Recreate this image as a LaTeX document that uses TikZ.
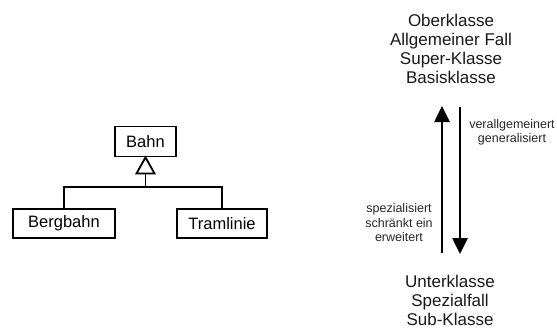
\documentclass[tikz,border=0pt]{standalone}
\usepackage{fontspec}
\setmainfont{Liberation Sans}
\usetikzlibrary{arrows.meta}
\begin{document}
\begin{tikzpicture}[x=1pt,y=-1pt,
  cls/.style={draw,line width=1.8pt,inner sep=0pt,minimum height=30pt,font=\fontsize{16.5}{20}\selectfont},
  big/.style={align=center,font=\fontsize{17}{19}\selectfont,text=black!90},
  small/.style={align=center,font=\fontsize{12.5}{14.5}\selectfont,text=black!85},
  conn/.style={line width=1.8pt},
  bigarrow/.style={line width=2.6pt,-{Triangle[length=16pt,width=15pt]}}]
\useasboundingbox (0,0) rectangle (557,329);
% class diagram
\node[cls,minimum width=61pt] (bahn) at (145.5,141.5) {Bahn};
\node[cls,minimum width=102pt,minimum height=29pt] (berg) at (64,223.5) {Bergbahn};
\node[cls,minimum width=90pt,minimum height=29pt] (tram) at (222,223.5) {Tramlinie};
\coordinate (j) at (145.5,187);
\draw[conn] (berg.north) |- (j) -| (tram.north);
\draw[conn] (j) -- ++(0,-15);
\draw[conn,line join=miter,fill=white] (bahn.south) -- ++(-9,16) -- ++(18,0) -- cycle;
% right side
\node[big] (top) at (451,48.5) {Oberklasse\\Allgemeiner Fall\\Super-Klasse\\Basisklasse};
\node[big] (bottom) at (450,300.5) {Unterklasse\\Spezialfall\\Sub-Klasse};
\coordinate (u1) at (442,253);
\coordinate (u2) at (442,106);
\coordinate (d1) at (460,107);
\coordinate (d2) at (460,254);
\draw[bigarrow] (u1) -- (u2);
\draw[bigarrow] (d1) -- (d2);
\node[small] (gen) at (512,132.5) {verallgemeinert\\generalisiert};
\node[small] (spec) at (399,223) {spezialisiert\\schränkt ein\\erweitert};
\end{tikzpicture}
\end{document}
